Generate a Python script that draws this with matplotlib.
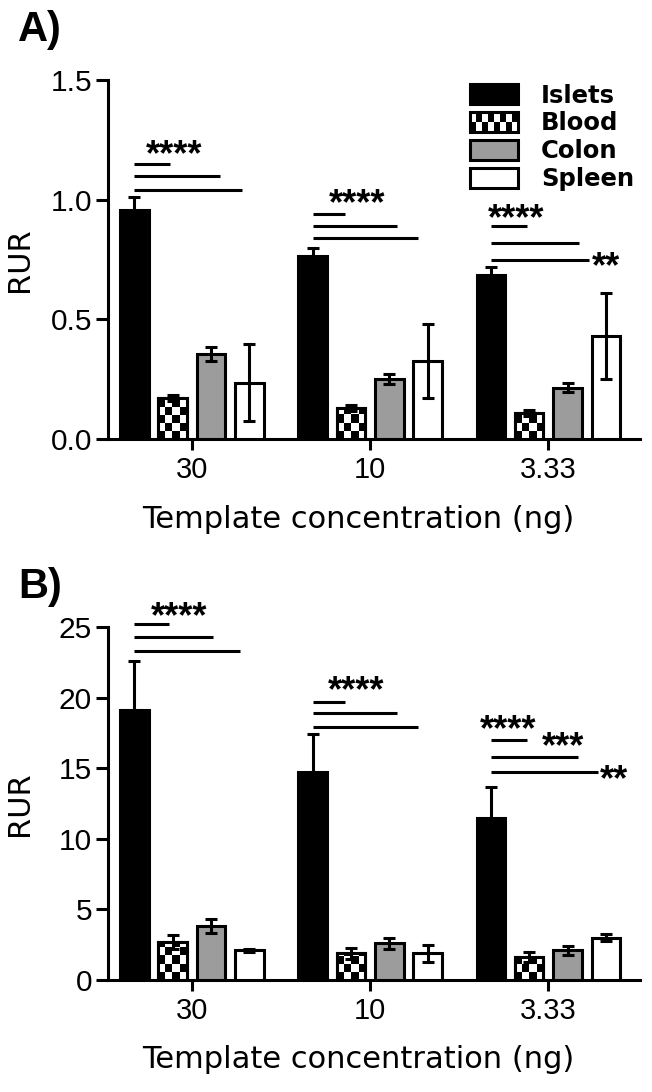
import matplotlib
matplotlib.use("Agg")
import matplotlib.pyplot as plt
import numpy as np
from matplotlib.patches import Rectangle, Patch
from matplotlib.legend_handler import HandlerPatch

plt.rcParams['font.family'] = ['Liberation Sans', 'DejaVu Sans']

# Data
groups = ['30', '10', '3.33']
tissues = ['Islets', 'Blood', 'Colon', 'Spleen']

# Panel A (RUR)
islets_a = [0.955, 0.765, 0.685]
islets_a_err = [0.055, 0.035, 0.035]
blood_a = [0.17, 0.13, 0.11]
blood_a_err = [0.012, 0.012, 0.012]
colon_a = [0.355, 0.25, 0.215]
colon_a_err = [0.03, 0.02, 0.02]
spleen_a = [0.235, 0.325, 0.43]
spleen_a_err = [0.16, 0.155, 0.18]

# Panel B (RUR)
islets_b = [19.1, 14.7, 11.5]
islets_b_err = [3.5, 2.7, 2.2]
blood_b = [2.7, 1.9, 1.6]
blood_b_err = [0.5, 0.4, 0.35]
colon_b = [3.8, 2.6, 2.1]
colon_b_err = [0.5, 0.4, 0.3]
spleen_b = [2.1, 1.9, 3.0]
spleen_b_err = [0.1, 0.6, 0.25]

# significance brackets: (group, y level, x end offset from group centre)
sig_lines_a = [(0, 1.15, -0.12), (0, 1.10, 0.16), (0, 1.04, 0.28),
               (1, 0.94, -0.14), (1, 0.89, 0.15), (1, 0.84, 0.27),
               (2, 0.89, -0.12), (2, 0.82, 0.17), (2, 0.75, 0.23)]
sig_text_a = [(0, 1.215, -0.10, '****', 'center'),
              (1, 1.01, -0.07, '****', 'center'),
              (2, 0.95, -0.18, '****', 'center'),
              (2, 0.75, 0.245, '**', 'left')]
sig_lines_b = [(0, 25.2, -0.13), (0, 24.3, 0.12), (0, 23.3, 0.27),
               (1, 19.7, -0.14), (1, 18.9, 0.15), (1, 17.9, 0.27),
               (2, 17.0, -0.12), (2, 15.8, 0.165), (2, 14.7, 0.28)]
sig_text_b = [(0, 26.2, -0.07, '****', 'center'),
              (1, 21.0, -0.08, '****', 'center'),
              (2, 18.2, -0.225, '****', 'center'),
              (2, 17.0, -0.035, '***', 'left'),
              (2, 14.7, 0.29, '**', 'left')]

LW = 2.2
GRAY = '#9c9c9c'
step = 0.215
width = 0.16
offsets = [-1.5 * step, -0.5 * step, 0.5 * step, 1.5 * step]


def add_checker(ax, patches, cell_px=8):
    fig = ax.figure
    pos = ax.get_position()
    ax_h_px = pos.height * fig.get_figheight() * fig.dpi
    ax_w_px = pos.width * fig.get_figwidth() * fig.dpi
    y0, y1 = ax.get_ylim()
    x0, x1 = ax.get_xlim()
    cell_y = cell_px * (y1 - y0) / ax_h_px
    for p in patches:
        w = p.get_width()
        nx = max(1, int(round(w * ax_w_px / (x1 - x0) / cell_px)))
        ny = int(np.ceil(p.get_height() / cell_y))
        board = np.indices((ny, nx)).sum(axis=0) % 2
        im = ax.imshow(board, cmap='gray', extent=(p.get_x(), p.get_x() + w, 0, ny * cell_y),
                       origin='lower', interpolation='nearest', aspect='auto', zorder=3.5)
        im.set_clip_path(p)


class CheckerHandler(HandlerPatch):
    def create_artists(self, legend, orig_handle, xdescent, ydescent, width, height, fontsize, trans):
        arts = [Rectangle((-xdescent, -ydescent), width, height, facecolor='white',
                          edgecolor='none', transform=trans)]
        n = 8
        cw = width / n
        ch = height / 2
        for i in range(n):
            for j in range(2):
                if (i + j) % 2 == 0:
                    arts.append(Rectangle((-xdescent + i * cw, -ydescent + j * ch), cw, ch,
                                          facecolor='black', edgecolor='none', transform=trans))
        arts.append(Rectangle((-xdescent, -ydescent), width, height, facecolor='none',
                              edgecolor='black', lw=LW, transform=trans))
        return arts


def draw_panel(ax, series, errs, ylim, yticks, ylabels, sig_lines, sig_text, legend=False):
    x = np.arange(len(groups))
    ax.set_xlim(-0.47, 2.514)
    ax.set_ylim(*ylim)
    styles = [dict(color='black', edgecolor='black'),
              dict(color='white', edgecolor='black'),
              dict(color=GRAY, edgecolor='black'),
              dict(color='white', edgecolor='black')]
    conts = []
    for k, (vals, st) in enumerate(zip(series, styles)):
        c = ax.bar(x + offsets[k], vals, width, linewidth=LW, zorder=3, **st)
        conts.append(c)
    add_checker(ax, conts[1].patches)
    # outline again over the checker pattern
    ax.bar(x + offsets[1], series[1], width, facecolor='none', edgecolor='black',
           linewidth=LW, zorder=4)
    for k, (vals, e) in enumerate(zip(series, errs)):
        ax.errorbar(x + offsets[k], vals, yerr=e, fmt='none', ecolor='black',
                    elinewidth=LW, capsize=4.5, capthick=LW, zorder=5)
    ax.set_xlim(-0.47, 2.514)
    ax.set_ylim(*ylim)

    for g, y, xe in sig_lines:
        ax.plot([g + offsets[0], g + xe], [y, y], color='black', lw=LW,
                solid_capstyle='butt', clip_on=False, zorder=6)
    for g, y, xo, s, ha in sig_text:
        ax.annotate(s, xy=(g + xo, y), xytext=(0, -12.5), textcoords='offset points',
                    ha=ha, va='baseline', fontsize=26, fontweight='bold',
                    annotation_clip=False)

    for side in ['top', 'right']:
        ax.spines[side].set_visible(False)
    for side in ['left', 'bottom']:
        ax.spines[side].set_linewidth(LW)
    ax.set_yticks(yticks)
    ax.set_yticklabels(ylabels)
    ax.set_xticks(x)
    ax.set_xticklabels(groups)
    ax.tick_params(axis='y', length=9, width=LW, labelsize=21.5, pad=2.5)
    ax.tick_params(axis='x', length=8, width=LW, labelsize=21, pad=4)
    ax.set_ylabel('RUR', fontsize=22, family='DejaVu Sans')
    ax.yaxis.set_label_coords(-0.14, 0.5)
    ax.set_xlabel('Template concentration (ng)', fontsize=22, labelpad=10,
                  family='DejaVu Sans')
    ax.xaxis.set_label_coords(0.47, -0.185)

    if legend:
        blood_handle = Patch(facecolor='white', edgecolor='black')
        handles = [conts[0], blood_handle, conts[2], conts[3]]
        ax.legend(handles, tissues, loc='upper left', bbox_to_anchor=(0.681, 0.99),
                  frameon=False, prop={'weight': 'bold', 'size': 17.5, 'family': 'DejaVu Sans'},
                  handlelength=1.95, handleheight=0.85, handletextpad=0.95,
                  labelspacing=0.16, borderpad=0, borderaxespad=0,
                  handler_map={blood_handle: CheckerHandler()})


fig = plt.figure(figsize=(6.52, 10.92), dpi=100)
axA = fig.add_axes([108 / 652, 1 - 439 / 1092, 532 / 652, 359 / 1092])
axB = fig.add_axes([108 / 652, 1 - 980 / 1092, 532 / 652, 353 / 1092])

draw_panel(axA, [islets_a, blood_a, colon_a, spleen_a],
           [islets_a_err, blood_a_err, colon_a_err, spleen_a_err],
           (0, 1.5), [0, 0.5, 1.0, 1.5], ['0.0', '0.5', '1.0', '1.5'],
           sig_lines_a, sig_text_a, legend=True)
draw_panel(axB, [islets_b, blood_b, colon_b, spleen_b],
           [islets_b_err, blood_b_err, colon_b_err, spleen_b_err],
           (0, 25), [0, 5, 10, 15, 20, 25], ['0', '5', '10', '15', '20', '25'],
           sig_lines_b, sig_text_b)

fig.text(18 / 652, 1 - 41 / 1092, 'A)', fontsize=30, fontweight='bold', va='baseline')
fig.text(18 / 652, 1 - 598 / 1092, 'B)', fontsize=30, fontweight='bold', va='baseline')

fig.savefig('out.png', dpi=100)
